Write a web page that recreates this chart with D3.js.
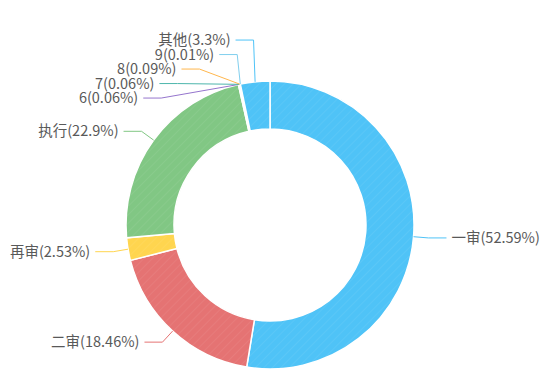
<!DOCTYPE html>
<html>
<head>
<meta charset="utf-8">
<script src="https://cdn.jsdelivr.net/npm/d3@7/dist/d3.min.js"></script>
<style>
  body { margin: 0; background: #fff; }
  .label { font-family: "Noto Sans CJK SC", "Noto Sans", sans-serif; font-size: 14.5px; fill: #595959; }
</style>
</head>
<body>
<div id="chart"></div>
<script>
const categories = ["一审", "二审", "再审", "执行", "6", "7", "8", "9", "其他"];
const values = [52.59, 18.46, 2.53, 22.9, 0.06, 0.06, 0.09, 0.01, 3.3];
const colors = ["#4fc3f7", "#e57373", "#ffd54f", "#81c784", "#9575cd", "#4db6ac", "#ffb74d", "#81cfee", "#4fc3f7"];

const width = 550,
  height = 390,
  cx = 270,
  cy = 225,
  outerR = 144,
  innerR = 96,
  len1 = 15,
  len2 = 18,
  textGap = 5,
  lineH = 14.5,
  ellipseRy = outerR + 30;

const data = categories.map((c, i) => ({ name: c, value: values[i], color: colors[i] }));

const pie = d3.pie().value(d => d.value).sort(null);
const arc = d3.arc().innerRadius(innerR).outerRadius(outerR);
const arcs = pie(data);

const svg = d3.select("#chart").append("svg")
  .attr("width", width)
  .attr("height", height);

// faint diagonal texture over slices
const defs = svg.append("defs");
const pat = defs.append("pattern")
  .attr("id", "hatch")
  .attr("patternUnits", "userSpaceOnUse")
  .attr("width", 6)
  .attr("height", 6)
  .attr("patternTransform", "rotate(45)");
pat.append("line")
  .attr("x1", 0).attr("y1", 0).attr("x2", 0).attr("y2", 6)
  .attr("stroke", "#fff")
  .attr("stroke-width", 1)
  .attr("stroke-opacity", 0.12);

const g = svg.append("g").attr("transform", `translate(${cx},${cy})`);

g.selectAll(".slice")
  .data(arcs)
  .join("path")
  .attr("class", "slice")
  .attr("d", arc)
  .attr("fill", d => d.data.color)
  .attr("stroke", "#fff")
  .attr("stroke-width", 1.5);

g.selectAll(".hatch")
  .data(arcs)
  .join("path")
  .attr("class", "hatch")
  .attr("d", arc)
  .attr("fill", "url(#hatch)");

// label layout
const items = arcs.map(d => {
  const a = (d.startAngle + d.endAngle) / 2;
  const sx = Math.sin(a), sy = -Math.cos(a);
  return {
    d: d,
    dir: sx < 0 ? -1 : 1,
    p0: [outerR * sx, outerR * sy],
    ex: (outerR + len1) * sx,
    y: (outerR + len1) * sy,
    ny: (outerR + len1) * sy
  };
});

function layoutSide(list) {
  list.sort((a, b) => a.ny - b.ny);
  let clusters = list.map(it => ({ items: [it], mean: it.ny }));
  let merged = true;
  while (merged) {
    merged = false;
    clusters.forEach(c => {
      const n = c.items.length;
      c.top = c.mean - (n - 1) * lineH / 2;
      c.bottom = c.top + (n - 1) * lineH;
    });
    for (let i = 0; i < clusters.length - 1; i++) {
      if (clusters[i].bottom + lineH > clusters[i + 1].top) {
        const all = clusters[i].items.concat(clusters[i + 1].items);
        clusters.splice(i, 2, { items: all, mean: d3.mean(all, it => it.ny) });
        merged = true;
        break;
      }
    }
  }
  clusters.forEach(c => {
    c.items.forEach((it, k) => {
      it.y = c.top + k * lineH;
      if (c.items.length > 1) {
        const rx = outerR + len1;
        const t = 1 - (it.y * it.y) / (ellipseRy * ellipseRy);
        const x = rx * Math.sqrt(Math.max(0, t)) * it.dir;
        it.ex = it.dir < 0 ? Math.min(x, it.ex) : Math.max(x, it.ex);
      }
    });
  });
}

layoutSide(items.filter(it => it.dir < 0));
layoutSide(items.filter(it => it.dir > 0));

const line = d3.line();

g.selectAll(".label-line")
  .data(items)
  .join("path")
  .attr("class", "label-line")
  .attr("fill", "none")
  .attr("stroke", it => it.d.data.color)
  .attr("stroke-width", 1)
  .attr("d", it => line([it.p0, [it.ex, it.y], [it.ex + it.dir * len2, it.y]]));

g.selectAll(".label")
  .data(items)
  .join("text")
  .attr("class", "label")
  .attr("x", it => it.ex + it.dir * (len2 + textGap))
  .attr("y", it => it.y)
  .attr("dy", "0.35em")
  .attr("text-anchor", it => it.dir < 0 ? "end" : "start")
  .text(it => `${it.d.data.name}(${it.d.data.value}%)`);
</script>
</body>
</html>
